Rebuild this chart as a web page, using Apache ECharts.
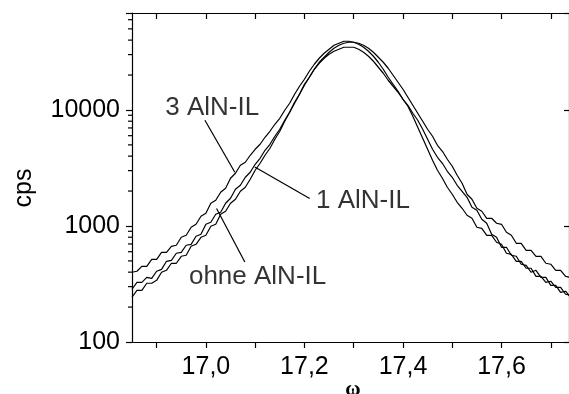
<!DOCTYPE html>
<html><head><meta charset="utf-8">
<script src="https://cdn.jsdelivr.net/npm/echarts@6/dist/echarts.min.js"></script>
<style>html,body{margin:0;padding:0;background:#fff}#c{width:569px;height:394px}</style>
</head><body><div id="c"></div>
<script>
const xs = [16.85,16.86,16.87,16.88,16.89,16.90,16.91,16.92,16.93,16.94,16.95,16.96,16.97,16.98,16.99,
  17.00,17.01,17.02,17.03,17.04,17.05,17.06,17.07,17.08,17.09,17.10,17.11,17.12,17.13,17.14,
  17.15,17.16,17.17,17.18,17.19,17.20,17.21,17.22,17.23,17.24,17.25,17.26,17.27,17.28,17.29,
  17.30,17.31,17.32,17.33,17.34,17.35,17.36,17.37,17.38,17.39,17.40,17.41,17.42,17.43,17.44,
  17.45,17.46,17.47,17.48,17.49,17.50,17.51,17.52,17.53,17.54,17.55,17.56,17.57,17.58,17.59,
  17.60,17.61,17.62,17.63,17.64,17.65,17.66,17.67,17.68,17.69,17.70,17.71,17.72,17.73,17.74];
const cps3AlN = [399,407,449,449,516,516,593,593,668,682,799,831,975,1034,1212,1287,1569,1666,1952,2114,2578,2847,3337,3541,4069,
  4584,5062,5816,6552,7529,8481,9941,11423,13656,16007,18394,21559,24773,27905,30817,33364,36121,37584,39106,39106,38338,36845,34715,32065,29035,25776,22432,19138,16655,14494,12366,10762,8825,7094,5702,4584,3685,3021,2578,2156,1876,1601,1421,
  1237,1165,975,955,831,831,724,695,582,570,496,496,432,432,368,368,327,334,296,296,258,253];
const cps1AlN = [243,279,279,321,321,340,399,415,477,477,548,559,668,695,799,831,994,1034,1261,1339,1569,1699,1991,2156,2527,
  3021,3472,4069,4676,5590,6552,7991,9554,11423,13656,16328,19138,22432,25776,28465,31435,34033,36121,37584,38338,38338,37584,36121,34033,31435,28465,25776,22882,19914,17330,15081,12867,10978,9366,7991,6817,5933,4962,4405,3759,3271,2736,2334,
  1876,1699,1421,1339,1165,1165,1055,1034,882,831,709,709,617,617,548,548,477,468,415,415,368,361];
const cpsOhne = [285,327,327,361,354,407,423,496,506,582,593,682,695,815,848,1034,1076,1261,1313,1569,1733,2072,2243,2629,2904,
  3403,3834,4494,5062,5933,6817,8151,9554,11652,13656,16655,19138,22432,25269,27905,30211,32065,33364,34715,34715,34715,33364,31435,29035,26293,23340,20720,18032,16007,14210,12366,10978,9366,8151,6817,5590,4584,3911,3472,2962,2629,2243,1991,
  1768,1450,1366,1142,1055,848,799,655,655,559,548,468,458,399,415,361,361,308,308,268,274,243];
const xTickValues = [16.9,17.0,17.1,17.2,17.3,17.4,17.5,17.6,17.7];
const xLabelValues = [17.0,17.2,17.4,17.6];
const yLabelValues = [100,1000,10000];
const yMinorTicks = [200,300,400,500,600,700,800,900,2000,3000,4000,5000,6000,7000,8000,9000,20000,30000,40000,50000,60000];
const annoTexts = [
  {name:'3 AlN-IL', value:[17.0129,10343]},
  {name:'1 AlN-IL', value:[17.3187,1650]},
  {name:'ohne AlN-IL', value:[17.1049,368]}
];
const leaderLines = [
  [[16.998,8147],[17.0587,2904]],
  [[17.0992,3226],[17.2107,1722]],
  [[17.0216,1413],[17.079,489]]
];
const xMin = 16.85, xMax = 17.737, yMin = 100, yMax = 68500;

const font = 'Liberation Sans, Arial, sans-serif';
const zip = (a) => xs.map((x,i)=>[x,a[i]]);
const lineSeries = (name, arr) => ({
  name, type:'line', data: zip(arr), showSymbol:false, symbol:'none',
  lineStyle:{color:'#000', width:1.2}, silent:true, clip:true, z:3
});
const chart = echarts.init(document.getElementById('c'), null, {renderer:'canvas'});
chart.setOption({
  animation:false,
  backgroundColor:'#fff',
  grid:{left:132, top:13, width:438, height:329, containLabel:false},
  xAxis:[{
    type:'value', min:xMin, max:xMax, position:'bottom',
    axisLine:{show:true, lineStyle:{color:'#000', width:1.2}},
    axisTick:{show:true, length:6, inside:false, customValues:xTickValues, lineStyle:{color:'#000', width:1.2}},
    axisLabel:{show:true, customValues:xLabelValues, margin:13, color:'#000', fontSize:25, fontFamily:font,
      formatter:(v)=>v.toFixed(1).replace('.', ',')},
    splitLine:{show:false}
  },{
    type:'value', min:xMin, max:xMax, position:'top',
    axisLine:{show:true, lineStyle:{color:'#000', width:1.2}},
    axisTick:{show:true, length:6, inside:true, customValues:xTickValues, lineStyle:{color:'#000', width:1.2}},
    axisLabel:{show:false}, splitLine:{show:false}
  }],
  yAxis:[{
    type:'log', logBase:10, min:yMin, max:yMax, position:'left',
    axisLine:{show:true, lineStyle:{color:'#000', width:1.2}},
    axisTick:{show:true, length:6, lineStyle:{color:'#000', width:1.2}},
    axisLabel:{show:true, margin:12, color:'#000', fontSize:25, fontFamily:font,
      formatter:(v)=>{ const r=Math.round(v); return yLabelValues.includes(r) ? String(r) : ''; }},
    splitLine:{show:false}, minorTick:{show:false}
  },{
    type:'log', logBase:10, min:yMin, max:yMax, position:'right',
    axisLine:{show:true, lineStyle:{color:'#000', width:1.2}},
    axisTick:{show:true, length:5, inside:true, lineStyle:{color:'#000', width:1.2}},
    axisLabel:{show:false}, splitLine:{show:false}
  }],
  graphic:[
    {type:'text', x:24, y:188, rotation:Math.PI/2,
      style:{text:'cps', font:'25px '+font, fill:'#000', align:'center', verticalAlign:'middle'}},
    {type:'text', x:353, y:390,
      style:{text:'\u03c9', font:'bold 21px Liberation Serif, Times New Roman, serif', fill:'#000', align:'center', verticalAlign:'middle'}}
  ],
  series:[
    lineSeries('3 AlN-IL', cps3AlN),
    lineSeries('1 AlN-IL', cps1AlN),
    lineSeries('ohne AlN-IL', cpsOhne),
    {
      type:'custom', name:'minorTicks', silent:true, clip:false, z:5,
      data: yMinorTicks.map(v=>[xMin, v]),
      renderItem:(params, api)=>{
        const p = api.coord([api.value(0), api.value(1)]);
        return {type:'line', shape:{x1:p[0]-4, y1:p[1], x2:p[0], y2:p[1]}, style:{stroke:'#000', lineWidth:1.2}};
      }
    },
    {
      type:'custom', name:'leaders', silent:true, clip:false, z:4,
      data: leaderLines.map(l=>[l[0][0], l[0][1], l[1][0], l[1][1]]),
      renderItem:(params, api)=>{
        const a = api.coord([api.value(0), api.value(1)]);
        const b = api.coord([api.value(2), api.value(3)]);
        return {type:'line', shape:{x1:a[0], y1:a[1], x2:b[0], y2:b[1]}, style:{stroke:'#000', lineWidth:1.2}};
      }
    },
    {
      type:'scatter', name:'labels', silent:true, symbolSize:0, z:6,
      data: annoTexts,
      label:{show:true, position:'inside', formatter:(p)=>p.name, color:'#000', fontSize:26, fontFamily:font,
        align:'center', verticalAlign:'middle'}
    }
  ]
});
</script></body></html>
